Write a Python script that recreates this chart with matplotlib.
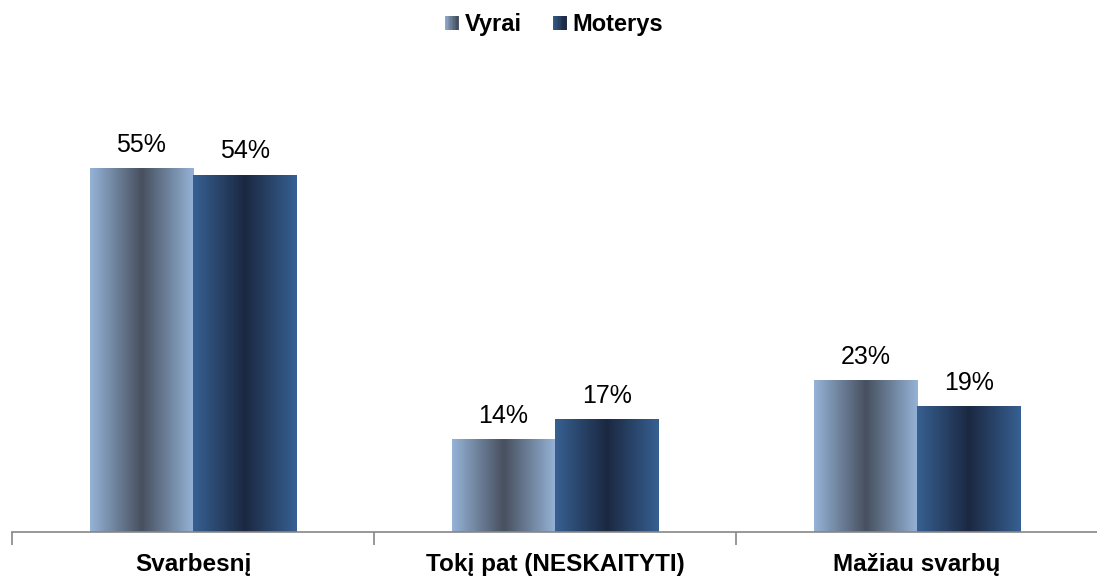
import numpy as np
import matplotlib.pyplot as plt
from matplotlib.colors import LinearSegmentedColormap
from matplotlib.legend_handler import HandlerBase
from matplotlib.patches import Rectangle

plt.rcParams['font.family'] = ['Liberation Sans', 'DejaVu Sans']

categories = ['Svarbesnį', 'Tokį pat (NESKAITYTI)', 'Mažiau svarbų']
series = ['Vyrai', 'Moterys']
vyrai = [55, 14, 23]
moterys = [54, 17, 19]

# edge / centre colours for the horizontal bar shading
shades = {
    'Vyrai': ['#95b3d7', '#47505f', '#95b3d7'],
    'Moterys': ['#376092', '#1b2841', '#376092'],
}

fig = plt.figure(figsize=(10.97, 5.78), dpi=100)
ax = fig.add_axes([12 / 1097, 46 / 578, 1086 / 1097, 472 / 578])

x = np.arange(len(categories))
w = 0.285
ymax = 71.3

for vals, name, off in [(vyrai, 'Vyrai', -w / 2), (moterys, 'Moterys', w / 2)]:
    cmap = LinearSegmentedColormap.from_list(name, shades[name])
    grad = np.linspace(0, 1, 256).reshape(1, -1)
    bars = ax.bar(x + off, vals, w, color='none', edgecolor='none')
    for b, v in zip(bars, vals):
        im = ax.imshow(grad, cmap=cmap, aspect='auto', interpolation='bicubic',
                       extent=[b.get_x(), b.get_x() + b.get_width(), 0, v],
                       zorder=2)
        im.set_clip_path(b)
        ax.annotate(f'{v}%', (b.get_x() + b.get_width() / 2, v),
                    xytext=(0, 8), textcoords='offset points',
                    ha='center', va='bottom', fontsize=18)

ax.set_xlim(-0.5, len(categories) - 0.5)
ax.set_ylim(0, ymax)
ax.set_yticks([])
for s in ['top', 'right', 'left']:
    ax.spines[s].set_visible(False)
ax.spines['bottom'].set_color('#868686')
ax.spines['bottom'].set_linewidth(1.2)

ax.set_xticks(x)
ax.set_xticklabels(categories, fontsize=17.5, fontweight='bold')
ax.tick_params(axis='x', length=0, pad=15)
ax.set_xticks(np.arange(len(categories) + 1) - 0.5, minor=True)
ax.tick_params(axis='x', which='minor', length=9, color='#868686', width=1.2)


class GradientHandler(HandlerBase):
    def create_artists(self, legend, orig_handle, xdescent, ydescent,
                       width, height, fontsize, trans):
        cols = orig_handle.cols
        n = len(cols)
        side = height * 0.85
        x0 = width - side
        y0 = (height - side) / 2
        arts = []
        for i, c in enumerate(cols):
            r = Rectangle((x0 - xdescent + i * side / n, y0 - ydescent), side / n, side,
                          facecolor=c, edgecolor='none', transform=trans)
            arts.append(r)
        return arts


handles = []
for name in series:
    cmap = LinearSegmentedColormap.from_list(name, shades[name])
    h = Rectangle((0, 0), 1, 1)
    h.cols = [cmap(t) for t in np.linspace(0.05, 0.55, 10)]
    handles.append(h)

fig.legend(handles, series, loc='center', bbox_to_anchor=(0.505, 0.957),
           ncol=2, frameon=False, handler_map={Rectangle: GradientHandler()},
           prop={'size': 17, 'weight': 'bold'}, handlelength=0.6,
           handletextpad=0.25, columnspacing=1.3)

fig.savefig('out.png', dpi=100)
